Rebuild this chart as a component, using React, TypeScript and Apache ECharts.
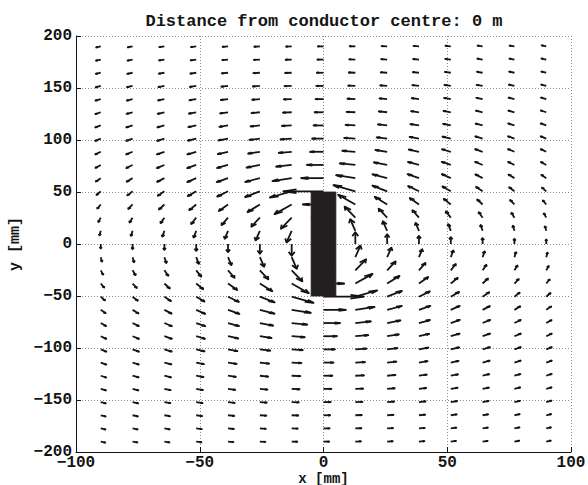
import React, { useEffect, useRef } from "react";
import * as echarts from "echarts";

// Grid of sample points [mm]
const xGrid = [-90, -77.143, -64.286, -51.429, -38.571, -25.714, -12.857, 0, 12.857, 25.714, 38.571, 51.429, 64.286, 77.143, 90];
const yGrid = [190, 177.333, 164.667, 152, 139.333, 126.667, 114, 101.333, 88.667, 76, 63.333, 50.667, 38, 25.333, 12.667, 0,
  -12.667, -25.333, -38, -50.667, -63.333, -76, -88.667, -101.333, -114, -126.667, -139.333, -152, -164.667, -177.333, -190];

// Field components (relative units), one row per yGrid entry, one column per xGrid entry
const bxRows = [
  [-0.432, -0.456, -0.478, -0.498, -0.515, -0.528, -0.536, -0.539, -0.536, -0.528, -0.515, -0.498, -0.478, -0.456, -0.432],
  [-0.450, -0.478, -0.505, -0.529, -0.550, -0.566, -0.576, -0.580, -0.576, -0.566, -0.550, -0.529, -0.505, -0.478, -0.450],
  [-0.468, -0.501, -0.533, -0.563, -0.589, -0.610, -0.623, -0.627, -0.623, -0.610, -0.589, -0.563, -0.533, -0.501, -0.468],
  [-0.486, -0.525, -0.564, -0.601, -0.634, -0.661, -0.677, -0.683, -0.677, -0.661, -0.634, -0.601, -0.564, -0.525, -0.486],
  [-0.503, -0.549, -0.597, -0.644, -0.686, -0.721, -0.743, -0.751, -0.743, -0.721, -0.686, -0.644, -0.597, -0.549, -0.503],
  [-0.517, -0.572, -0.631, -0.690, -0.745, -0.792, -0.824, -0.835, -0.824, -0.792, -0.745, -0.690, -0.631, -0.572, -0.517],
  [-0.527, -0.592, -0.664, -0.739, -0.813, -0.878, -0.924, -0.941, -0.924, -0.878, -0.813, -0.739, -0.664, -0.592, -0.527],
  [-0.530, -0.606, -0.693, -0.788, -0.889, -0.984, -1.054, -1.081, -1.054, -0.984, -0.889, -0.788, -0.693, -0.606, -0.530],
  [-0.523, -0.609, -0.712, -0.832, -0.969, -1.111, -1.229, -1.277, -1.229, -1.111, -0.969, -0.832, -0.712, -0.609, -0.523],
  [-0.503, -0.596, -0.713, -0.859, -1.041, -1.258, -1.474, -1.570, -1.474, -1.258, -1.041, -0.859, -0.713, -0.596, -0.503],
  [-0.464, -0.560, -0.685, -0.851, -1.076, -1.389, -1.818, -2.118, -1.818, -1.389, -1.076, -0.851, -0.685, -0.560, -0.464],
  [-0.406, -0.497, -0.620, -0.788, -1.028, -1.396, -2.065, -3.800, -2.065, -1.396, -1.028, -0.788, -0.620, -0.497, -0.406],
  [-0.327, -0.405, -0.511, -0.658, -0.867, -1.173, -1.621, -1.960, -1.621, -1.173, -0.867, -0.658, -0.511, -0.405, -0.327],
  [-0.229, -0.286, -0.363, -0.470, -0.614, -0.804, -1.011, -1.110, -1.011, -0.804, -0.614, -0.470, -0.363, -0.286, -0.229],
  [-0.118, -0.148, -0.189, -0.244, -0.315, -0.402, -0.483, -0.515, -0.483, -0.402, -0.315, -0.244, -0.189, -0.148, -0.118],
  [0, 0, 0, 0, 0, 0, 0, 0, 0, 0, 0, 0, 0, 0, 0],
  [0.118, 0.148, 0.189, 0.244, 0.315, 0.402, 0.483, 0.515, 0.483, 0.402, 0.315, 0.244, 0.189, 0.148, 0.118],
  [0.229, 0.286, 0.363, 0.470, 0.614, 0.804, 1.011, 1.110, 1.011, 0.804, 0.614, 0.470, 0.363, 0.286, 0.229],
  [0.327, 0.405, 0.511, 0.658, 0.867, 1.173, 1.621, 1.960, 1.621, 1.173, 0.867, 0.658, 0.511, 0.405, 0.327],
  [0.406, 0.497, 0.620, 0.788, 1.028, 1.396, 2.065, 3.800, 2.065, 1.396, 1.028, 0.788, 0.620, 0.497, 0.406],
  [0.464, 0.560, 0.685, 0.851, 1.076, 1.389, 1.818, 2.118, 1.818, 1.389, 1.076, 0.851, 0.685, 0.560, 0.464],
  [0.503, 0.596, 0.713, 0.859, 1.041, 1.258, 1.474, 1.570, 1.474, 1.258, 1.041, 0.859, 0.713, 0.596, 0.503],
  [0.523, 0.609, 0.712, 0.832, 0.969, 1.111, 1.229, 1.277, 1.229, 1.111, 0.969, 0.832, 0.712, 0.609, 0.523],
  [0.530, 0.606, 0.693, 0.788, 0.889, 0.984, 1.054, 1.081, 1.054, 0.984, 0.889, 0.788, 0.693, 0.606, 0.530],
  [0.527, 0.592, 0.664, 0.739, 0.813, 0.878, 0.924, 0.941, 0.924, 0.878, 0.813, 0.739, 0.664, 0.592, 0.527],
  [0.517, 0.572, 0.631, 0.690, 0.745, 0.792, 0.824, 0.835, 0.824, 0.792, 0.745, 0.690, 0.631, 0.572, 0.517],
  [0.503, 0.549, 0.597, 0.644, 0.686, 0.721, 0.743, 0.751, 0.743, 0.721, 0.686, 0.644, 0.597, 0.549, 0.503],
  [0.486, 0.525, 0.564, 0.601, 0.634, 0.661, 0.677, 0.683, 0.677, 0.661, 0.634, 0.601, 0.564, 0.525, 0.486],
  [0.468, 0.501, 0.533, 0.563, 0.589, 0.610, 0.623, 0.627, 0.623, 0.610, 0.589, 0.563, 0.533, 0.501, 0.468],
  [0.450, 0.478, 0.505, 0.529, 0.550, 0.566, 0.576, 0.580, 0.576, 0.566, 0.550, 0.529, 0.505, 0.478, 0.450],
  [0.432, 0.456, 0.478, 0.498, 0.515, 0.528, 0.536, 0.539, 0.536, 0.528, 0.515, 0.498, 0.478, 0.456, 0.432],
];

const byRows = [
  [-0.213, -0.193, -0.169, -0.141, -0.110, -0.075, -0.038, 0, 0.038, 0.075, 0.110, 0.141, 0.169, 0.193, 0.213],
  [-0.238, -0.217, -0.192, -0.161, -0.126, -0.087, -0.044, 0, 0.044, 0.087, 0.126, 0.161, 0.192, 0.217, 0.238],
  [-0.268, -0.247, -0.220, -0.186, -0.147, -0.101, -0.052, 0, 0.052, 0.101, 0.147, 0.186, 0.220, 0.247, 0.268],
  [-0.304, -0.283, -0.254, -0.218, -0.173, -0.120, -0.062, 0, 0.062, 0.120, 0.173, 0.218, 0.254, 0.283, 0.304],
  [-0.345, -0.325, -0.296, -0.257, -0.207, -0.145, -0.075, 0, 0.075, 0.145, 0.207, 0.257, 0.296, 0.325, 0.345],
  [-0.394, -0.377, -0.349, -0.308, -0.251, -0.179, -0.094, 0, 0.094, 0.179, 0.251, 0.308, 0.349, 0.377, 0.394],
  [-0.451, -0.439, -0.414, -0.373, -0.311, -0.227, -0.120, 0, 0.120, 0.227, 0.311, 0.373, 0.414, 0.439, 0.451],
  [-0.516, -0.512, -0.495, -0.459, -0.395, -0.296, -0.162, 0, 0.162, 0.296, 0.395, 0.459, 0.495, 0.512, 0.516],
  [-0.589, -0.598, -0.595, -0.571, -0.513, -0.404, -0.228, 0, 0.228, 0.404, 0.513, 0.571, 0.595, 0.598, 0.589],
  [-0.669, -0.697, -0.715, -0.715, -0.681, -0.579, -0.358, 0, 0.358, 0.579, 0.681, 0.715, 0.715, 0.697, 0.669],
  [-0.753, -0.802, -0.851, -0.891, -0.910, -0.869, -0.654, 0, 0.654, 0.869, 0.910, 0.891, 0.851, 0.802, 0.753],
  [-0.834, -0.908, -0.992, -1.086, -1.187, -1.295, -1.392, 0, 1.392, 1.295, 1.187, 1.086, 0.992, 0.908, 0.834],
  [-0.907, -1.006, -1.125, -1.271, -1.459, -1.723, -2.177, 0, 2.177, 1.723, 1.459, 1.271, 1.125, 1.006, 0.907],
  [-0.964, -1.083, -1.231, -1.419, -1.667, -2.007, -2.492, 0, 2.492, 2.007, 1.667, 1.419, 1.231, 1.083, 0.964],
  [-1.002, -1.133, -1.299, -1.512, -1.788, -2.149, -2.608, 0, 2.608, 2.149, 1.788, 1.512, 1.299, 1.133, 1.002],
  [-1.014, -1.150, -1.322, -1.543, -1.827, -2.192, -2.639, 0, 2.639, 2.192, 1.827, 1.543, 1.322, 1.150, 1.014],
  [-1.002, -1.133, -1.299, -1.512, -1.788, -2.149, -2.608, 0, 2.608, 2.149, 1.788, 1.512, 1.299, 1.133, 1.002],
  [-0.964, -1.083, -1.231, -1.419, -1.667, -2.007, -2.492, 0, 2.492, 2.007, 1.667, 1.419, 1.231, 1.083, 0.964],
  [-0.907, -1.006, -1.125, -1.271, -1.459, -1.723, -2.177, 0, 2.177, 1.723, 1.459, 1.271, 1.125, 1.006, 0.907],
  [-0.834, -0.908, -0.992, -1.086, -1.187, -1.295, -1.392, 0, 1.392, 1.295, 1.187, 1.086, 0.992, 0.908, 0.834],
  [-0.753, -0.802, -0.851, -0.891, -0.910, -0.869, -0.654, 0, 0.654, 0.869, 0.910, 0.891, 0.851, 0.802, 0.753],
  [-0.669, -0.697, -0.715, -0.715, -0.681, -0.579, -0.358, 0, 0.358, 0.579, 0.681, 0.715, 0.715, 0.697, 0.669],
  [-0.589, -0.598, -0.595, -0.571, -0.513, -0.404, -0.228, 0, 0.228, 0.404, 0.513, 0.571, 0.595, 0.598, 0.589],
  [-0.516, -0.512, -0.495, -0.459, -0.395, -0.296, -0.162, 0, 0.162, 0.296, 0.395, 0.459, 0.495, 0.512, 0.516],
  [-0.451, -0.439, -0.414, -0.373, -0.311, -0.227, -0.120, 0, 0.120, 0.227, 0.311, 0.373, 0.414, 0.439, 0.451],
  [-0.394, -0.377, -0.349, -0.308, -0.251, -0.179, -0.094, 0, 0.094, 0.179, 0.251, 0.308, 0.349, 0.377, 0.394],
  [-0.345, -0.325, -0.296, -0.257, -0.207, -0.145, -0.075, 0, 0.075, 0.145, 0.207, 0.257, 0.296, 0.325, 0.345],
  [-0.304, -0.283, -0.254, -0.218, -0.173, -0.120, -0.062, 0, 0.062, 0.120, 0.173, 0.218, 0.254, 0.283, 0.304],
  [-0.268, -0.247, -0.220, -0.186, -0.147, -0.101, -0.052, 0, 0.052, 0.101, 0.147, 0.186, 0.220, 0.247, 0.268],
  [-0.238, -0.217, -0.192, -0.161, -0.126, -0.087, -0.044, 0, 0.044, 0.087, 0.126, 0.161, 0.192, 0.217, 0.238],
  [-0.213, -0.193, -0.169, -0.141, -0.110, -0.075, -0.038, 0, 0.038, 0.075, 0.110, 0.141, 0.169, 0.193, 0.213],
];

// Conductor cross-section [xmin, xmax, ymin, ymax] in mm
const conductor = [-5, 5, -50, 50];

const xTicks = [-100, -50, 0, 50, 100];
const yTicks = [-200, -150, -100, -50, 0, 50, 100, 150, 200];

const titleText = "Distance from conductor centre: 0 m";
const xName = "x [mm]";
const yName = "y [mm]";

const FONT = "'Liberation Mono', 'Courier New', monospace";
const INK = "#141414";

function fmt(v: number) {
  return v < 0 ? "\u2212" + String(-v) : String(v);
}

export default function App() {
  const ref = useRef<HTMLDivElement>(null);

  useEffect(() => {
    if (!ref.current) return;
    const chart = echarts.init(ref.current, undefined, { renderer: "svg" });

    // quiver autoscale (as MATLAB): longest arrow = 0.9 * grid-cell diagonal
    const delx = Math.abs(xGrid[1] - xGrid[0]);
    const dely = Math.abs(yGrid[1] - yGrid[0]);
    let maxLen = 0;
    for (let r = 0; r < yGrid.length; r++) {
      for (let c = 0; c < xGrid.length; c++) {
        const l = Math.sqrt((bxRows[r][c] ** 2 + byRows[r][c] ** 2) / (delx * delx + dely * dely));
        if (l > maxLen) maxLen = l;
      }
    }
    const scale = 0.9 / maxLen;

    const arrows: number[][] = [];
    for (let r = 0; r < yGrid.length; r++) {
      for (let c = 0; c < xGrid.length; c++) {
        arrows.push([xGrid[c], yGrid[r], bxRows[r][c] * scale, byRows[r][c] * scale]);
      }
    }

    const alpha = 0.33;
    const beta = 0.33;
    const lw = 1.8;

    chart.setOption({
      animation: false,
      backgroundColor: "#ffffff",
      grid: { left: 76, top: 36, width: 495, height: 416, containLabel: false, outerBoundsMode: "none" },
      graphic: [
        {
          type: "text",
          x: 324,
          y: 13,
          style: {
            text: titleText,
            font: `bold 17px ${FONT}`,
            fill: INK,
            textAlign: "center",
            textVerticalAlign: "top",
          },
        },
      ],
      xAxis: {
        type: "value",
        min: -100,
        max: 100,
        interval: 50,
        name: xName,
        nameLocation: "middle",
        nameGap: 20,
        nameMoveOverlap: false,
        nameTextStyle: { fontFamily: FONT, fontWeight: "bold", fontSize: 14, lineHeight: 13, color: INK, verticalAlign: "top" },
        axisLine: { show: true, onZero: false, lineStyle: { color: INK, width: 1 } },
        axisTick: { show: true, inside: true, length: 5, lineStyle: { color: INK } },
        axisLabel: {
          fontFamily: FONT,
          fontWeight: "bold",
          fontSize: 16,
          lineHeight: 14,
          color: INK,
          margin: 4,
          formatter: (v: number) => (xTicks.includes(v) ? fmt(v) : ""),
        },
        splitLine: { show: true, lineStyle: { type: [1, 2], color: "#8a8a8a", width: 1 } },
      },
      yAxis: {
        type: "value",
        min: -200,
        max: 200,
        interval: 50,
        name: yName,
        nameLocation: "middle",
        nameGap: 48,
        nameTextStyle: { fontFamily: FONT, fontWeight: "bold", fontSize: 15, color: INK },
        axisLine: { show: true, onZero: false, lineStyle: { color: INK, width: 1 } },
        axisTick: { show: true, inside: true, length: 5, lineStyle: { color: INK } },
        axisLabel: {
          fontFamily: FONT,
          fontWeight: "bold",
          fontSize: 16,
          lineHeight: 13,
          color: INK,
          margin: 4,
          formatter: (v: number) => (yTicks.includes(v) ? fmt(v) : ""),
        },
        splitLine: { show: true, lineStyle: { type: [1, 2], color: "#8a8a8a", width: 1 } },
      },
      series: [
        {
          type: "custom",
          name: "field",
          coordinateSystem: "cartesian2d",
          clip: false,
          silent: true,
          z: 2,
          data: arrows,
          encode: { x: 0, y: 1 },
          renderItem: (_params: any, api: any) => {
            const x = api.value(0);
            const y = api.value(1);
            const u = api.value(2);
            const v = api.value(3);
            if (u === 0 && v === 0) return { type: "group", children: [] };
            const ex = x + u;
            const ey = y + v;
            const p0 = api.coord([x, y]);
            const p1 = api.coord([ex, ey]);
            const q1 = api.coord([ex - alpha * (u + beta * v), ey - alpha * (v - beta * u)]);
            const q2 = api.coord([ex - alpha * (u - beta * v), ey - alpha * (v + beta * u)]);
            return {
              type: "group",
              children: [
                {
                  type: "line",
                  shape: { x1: p0[0], y1: p0[1], x2: p1[0], y2: p1[1] },
                  style: { stroke: INK, lineWidth: lw, lineCap: "butt" },
                },
                {
                  type: "polyline",
                  shape: { points: [q1, p1, q2] },
                  style: { stroke: INK, lineWidth: lw, fill: "none", lineJoin: "round", lineCap: "butt" },
                },
              ],
            };
          },
        },
        {
          type: "custom",
          name: "conductor",
          coordinateSystem: "cartesian2d",
          silent: true,
          z: 3,
          data: [conductor],
          encode: { x: [0, 1], y: [2, 3] },
          renderItem: (_params: any, api: any) => {
            const a = api.coord([api.value(0), api.value(3)]);
            const b = api.coord([api.value(1), api.value(2)]);
            return {
              type: "rect",
              shape: { x: a[0], y: a[1], width: b[0] - a[0], height: b[1] - a[1] },
              style: { fill: "#231f20", stroke: "#231f20", lineWidth: 0.8 },
            };
          },
        },
      ],
    });

    return () => chart.dispose();
  }, []);

  return (
    <div
      ref={ref}
      style={{ position: "fixed", left: 0, top: 0, width: 588, height: 485, background: "#fff" }}
    />
  );
}
